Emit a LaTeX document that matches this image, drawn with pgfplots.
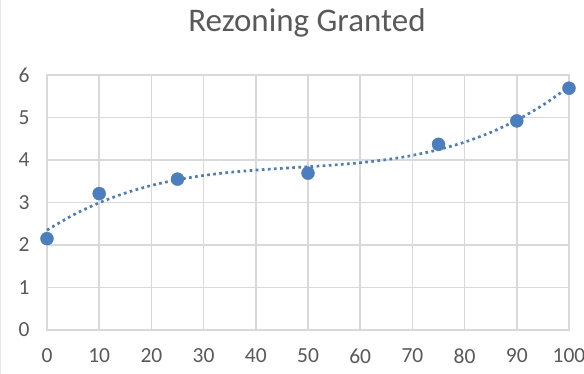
\documentclass[border=0pt]{standalone}
\usepackage{pgfplots}
\pgfplotsset{compat=1.18}
\usepackage{fontspec}
\setmainfont{Carlito}
\definecolor{txt}{HTML}{595959}
\definecolor{gridgray}{HTML}{D9D9D9}
\definecolor{ptblue}{HTML}{4A7EBF}

% observed values
\pgfplotstableread{
x   y
0   2.15
10  3.21
25  3.55
50  3.69
75  4.37
90  4.92
100 5.69
}\obsdata

% polynomial trend curve
\pgfplotstableread{
x   y
0   2.350
5   2.705
10  2.993
15  3.222
20  3.401
25  3.536
30  3.636
35  3.709
40  3.762
45  3.804
50  3.841
55  3.883
60  3.936
65  4.008
70  4.108
75  4.243
80  4.421
85  4.650
90  4.938
95  5.292
100 5.720
}\trenddata

\begin{document}
\begin{tikzpicture}
\useasboundingbox (0,0) rectangle (584bp,374bp);
\draw[gridgray!70, line width=1bp] (0.8bp,0) -- (0.8bp,374bp);
\node[anchor=base, text=txt, font=\fontsize{33bp}{33bp}\selectfont] at (307bp,342bp) {Rezoning Granted};
\begin{axis}[
  at={(47bp,44bp)}, anchor=south west,
  scale only axis, width=522bp, height=255bp,
  xmin=0, xmax=100, ymin=0, ymax=6,
  xtick={0,10,...,100}, ytick={0,1,...,6},
  grid=major,
  grid style={gridgray, line width=1.5bp},
  axis line style={gridgray, line width=1.5bp},
  tick style={draw=none},
  ticklabel style={font=\fontsize{21.5bp}{21.5bp}\selectfont, text=txt},
  xticklabel style={yshift=-15bp},
  yticklabel style={xshift=-14bp},
  /pgf/number format/assume math mode=true,
  clip=false,
]
\addplot[ptblue, line width=2.7bp, dash pattern=on 2.7bp off 3.4bp, smooth, no markers]
  table[x=x, y=y] {\trenddata};
\addplot[only marks, mark=*, mark size=6.5bp, mark options={fill=ptblue, draw=ptblue}]
  table[x=x, y=y] {\obsdata};
\end{axis}
\end{tikzpicture}
\end{document}
